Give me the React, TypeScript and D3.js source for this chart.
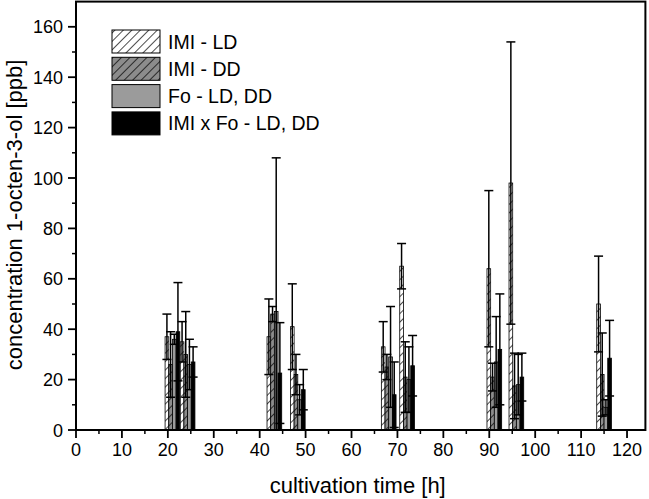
import React from "react";
import * as d3 from "d3";

const times = [21, 24.3, 43.2, 48.3, 68.1, 72.1, 91.1, 95.9, 115];
const seriesNames = ["IMI - LD", "IMI - DD", "Fo - LD, DD", "IMI x Fo - LD, DD"];
const imiLD = [37, 35, 37, 41, 33, 65, 64, 98, 50];
const imiLDErr = [9, 8, 15, 17, 10, 9, 31, 56, 19];
const imiDD = [26, 30, 46, 22, 25, 21, 21, 17.5, 22];
const imiDDErr = [13, 17, 3, 8, 5, 14, 5.5, 13, 16.5];
const fo = [36, 26, 47, 12, 29, 20, 27, 18, 9];
const foErr = [2, 10, 61, 6, 20, 13, 18, 12, 3];
const imiFo = [39, 27, 22.6, 16, 14, 25.5, 32, 21, 28.5];
const imiFoErr = [19.5, 6, 20, 8, 13, 12, 22, 9.5, 15];
const xTicks = [0, 10, 20, 30, 40, 50, 60, 70, 80, 90, 100, 110, 120];
const yTicks = [0, 20, 40, 60, 80, 100, 120, 140, 160];

const values = [imiLD, imiDD, fo, imiFo];
const errors = [imiLDErr, imiDDErr, foErr, imiFoErr];
const fills = ["url(#hatchWhite)", "url(#hatchGrey)", "#9b9b9b", "#000"];

export default function App() {
  const x = d3.scaleLinear().domain([0, 124]).range([76, 645.4]);
  const y = d3.scaleLinear().domain([0, 170]).range([430, 1.6]);
  const bw = 0.8;
  const font = "'Liberation Sans', Arial, sans-serif";
  const minorX = d3.range(5, 124, 10);
  const minorY = d3.range(10, 170, 20);

  const bars: any[] = [];
  const errs: any[] = [];
  values.forEach((vals, s) => {
    vals.forEach((v, i) => {
      const c = times[i] + (s - 1.5) * bw;
      const x0 = x(c - bw / 2);
      const x1 = x(c + bw / 2);
      bars.push(
        <rect key={`b${s}-${i}`} x={x0} y={y(v)} width={x1 - x0} height={y(0) - y(v)}
          fill={fills[s]} stroke="#000" strokeWidth={0.8} />
      );
      const e = errors[s][i];
      const top = v + e;
      const low = Math.max(0, v - e);
      const cx = x(c);
      errs.push(
        <g key={`e${s}-${i}`} stroke="#000" strokeWidth={1.5}>
          <line x1={cx} x2={cx} y1={y(low)} y2={y(top)} />
          <line x1={cx - 4.5} x2={cx + 4.5} y1={y(top)} y2={y(top)} />
          {v - e > 0 && <line x1={cx - 4.5} x2={cx + 4.5} y1={y(low)} y2={y(low)} />}
        </g>
      );
    });
  });

  const legY0 = 30;
  const legStep = 27.3;

  return (
    <svg width={649} height={499} style={{ position: "absolute", left: 0, top: 0, background: "#fff" }}>
      <defs>
        <pattern id="hatchWhite" patternUnits="userSpaceOnUse" width={6} height={6} patternTransform="rotate(45)">
          <rect width={6} height={6} fill="#fff" />
          <line x1={0} y1={0} x2={0} y2={6} stroke="#000" strokeWidth={1.4} />
        </pattern>
        <pattern id="hatchGrey" patternUnits="userSpaceOnUse" width={6} height={6} patternTransform="rotate(45)">
          <rect width={6} height={6} fill="#8c8c8c" />
          <line x1={0} y1={0} x2={0} y2={6} stroke="#000" strokeWidth={1.4} />
        </pattern>
      </defs>
      <rect x={0} y={0} width={649} height={499} fill="#fff" />
      {bars}
      {errs}
      <rect x={x(0)} y={y(170)} width={x(124) - x(0)} height={y(0) - y(170)} fill="none" stroke="#000" strokeWidth={2} />
      {xTicks.map((t) => (
        <g key={`xt${t}`}>
          <line x1={x(t)} x2={x(t)} y1={y(0)} y2={y(0) + 8} stroke="#000" strokeWidth={1.8} />
          <text x={x(t)} y={456} fontSize={18} fontFamily={font} textAnchor="middle">{t}</text>
        </g>
      ))}
      {minorX.map((t) => (
        <line key={`xm${t}`} x1={x(t)} x2={x(t)} y1={y(0)} y2={y(0) + 4} stroke="#000" strokeWidth={1.5} />
      ))}
      {yTicks.map((t) => (
        <g key={`yt${t}`}>
          <line x1={x(0) - 8} x2={x(0)} y1={y(t)} y2={y(t)} stroke="#000" strokeWidth={1.8} />
          <text x={63} y={y(t) + 6.5} fontSize={18} fontFamily={font} textAnchor="end">{t}</text>
        </g>
      ))}
      {minorY.map((t) => (
        <line key={`ym${t}`} x1={x(0) - 4} x2={x(0)} y1={y(t)} y2={y(t)} stroke="#000" strokeWidth={1.5} />
      ))}
      <text x={(x(0) + x(124)) / 2 - 3} y={493} fontSize={22} fontFamily={font} textAnchor="middle">cultivation time [h]</text>
      <text transform={`translate(22, 215) rotate(-90)`} fontSize={22} fontFamily={font} textAnchor="middle">concentration 1-octen-3-ol [ppb]</text>
      {seriesNames.map((n, s) => (
        <g key={`lg${s}`}>
          <rect x={112} y={legY0 + s * legStep} width={48} height={23} fill={fills[s]} stroke="#000" strokeWidth={1} />
          <text x={168} y={legY0 + s * legStep + 18.5} fontSize={19.5} fontFamily={font}>{n}</text>
        </g>
      ))}
    </svg>
  );
}
